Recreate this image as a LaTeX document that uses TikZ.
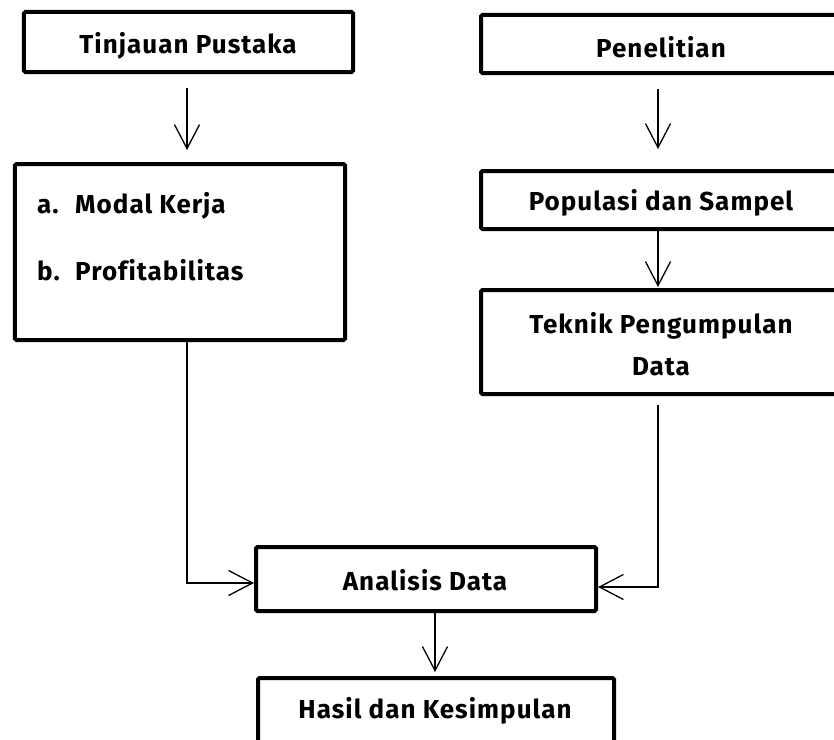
\documentclass[tikz,border=0pt]{standalone}
\usepackage{fontspec}
\setmainfont{Fira Sans}[Ligatures=NoCommon,LetterSpace=4.0]
\usetikzlibrary{arrows.meta}
\begin{document}
\begin{tikzpicture}[x=1bp,y=-1bp,
  box/.style={draw=black,line width=4bp,rounded corners=1.5bp,inner sep=0pt,fill=white},
  lbl/.style={font=\fontsize{26bp}{42bp}\selectfont\bfseries,inner sep=0pt,align=center},
  conn/.style={line width=1.3bp,-{Straight Barb[length=24bp,width=25bp,line width=1.3bp]}},
  plain/.style={line width=1.3bp}]
\useasboundingbox (0,0) rectangle (834,740);
\clip (0,0) rectangle (834,740);
\fill[white] (0,0) rectangle (834,740);
% boxes
\node[box,minimum width=329bp,minimum height=60bp] (tp) at (188.5,42) {};
\node[box,minimum width=330bp,minimum height=176bp] (mk) at (180,252) {};
\node[box,minimum width=364bp,minimum height=58bp] (pn) at (663,44) {};
\node[box,minimum width=364bp,minimum height=58bp] (ps) at (663,200) {};
\node[box,minimum width=364bp,minimum height=104bp] (tk) at (663,342) {};
\node[box,minimum width=340bp,minimum height=64bp] (ad) at (426,579) {};
\node[box,minimum width=356bp,minimum height=124bp] (hk) at (436,740) {};
% texts
\node[lbl] (tpt) at (188,46) {Tinjauan Pustaka};
\node[lbl] (pnt) at (661,47) {Penelitian};
\node[lbl] (pst) at (661,203) {Populasi dan Sampel};
\node[lbl] (tkt) at (661,344) {Teknik Pengumpulan\\Data};
\node[lbl] (adt) at (425,580) {Analisis Data};
\node[lbl] (hkt) at (435,711) {Hasil dan Kesimpulan};
\node[lbl,anchor=base west] (la) at (37,213) {a.};
\node[lbl,anchor=base west] (lat) at (75,213) {Modal Kerja};
\node[lbl,anchor=base west] (lb) at (37,280) {b.};
\node[lbl,anchor=base west] (lbt) at (75,280) {Profitabilitas};
% connectors
\coordinate (c1) at (187,583);
\coordinate (c2) at (658,587);
\draw[conn,shorten <=14bp,shorten >=12bp] (tp.south -| 187,0) -- (mk.north -| 187,0);
\draw[conn,shorten <=14bp,shorten >=20bp] (pn.south -| 658,0) -- (ps.north -| 658,0);
\draw[conn,shorten <=0bp,shorten >=1bp] (ps.south -| 658,0) -- (tk.north -| 658,0);
\draw[conn] (mk.south -| c1) -- (c1) -- (ad.west |- c1);
\draw[conn,shorten <=9bp] (tk.south -| c2) -- (c2) -- (ad.east |- c2);
\draw[conn,shorten >=4bp] (ad.south -| 435,0) -- (hk.north -| 435,0);
\end{tikzpicture}
\end{document}
